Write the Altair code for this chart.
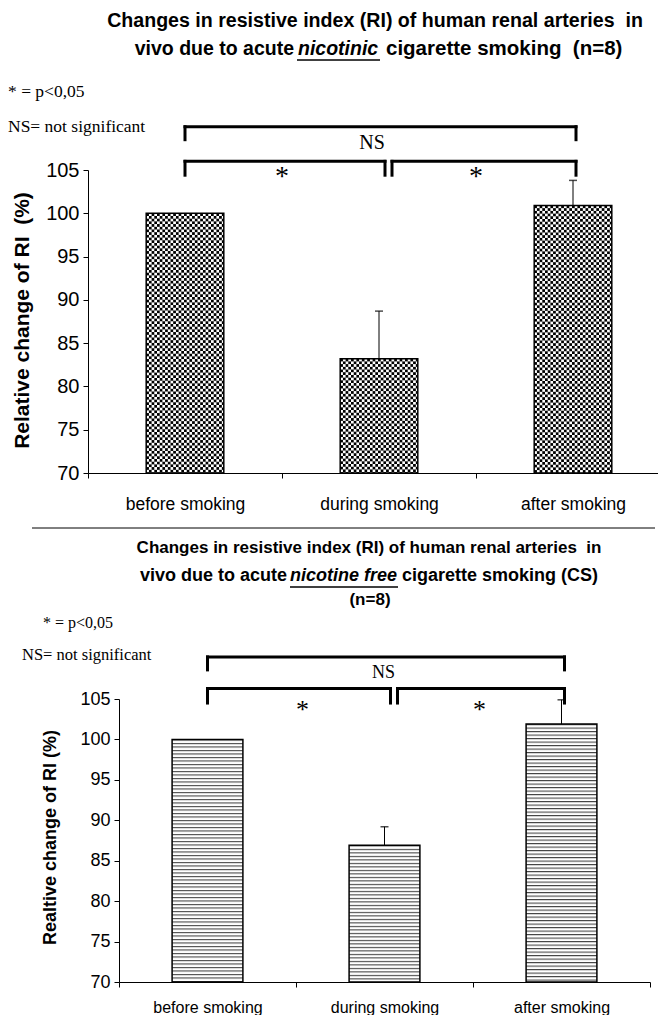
import base64
import altair as alt
import pandas as pd

# ---------------- data ----------------
categories = ["before smoking", "during smoking", "after smoking"]
nicotinic_mean = [100.0, 83.2, 100.9]
nicotinic_err = [0.0, 5.5, 2.9]
nicfree_mean = [100.0, 86.9, 101.9]
nicfree_err = [0.0, 2.3, 3.0]
y_ticks = [70, 75, 80, 85, 90, 95, 100, 105]

W, H = 650, 1007
SANS = "'Liberation Sans', Arial, sans-serif"
SERIF = "'Liberation Serif', 'Times New Roman', serif"
NB = "\u00a0"


def svg_url(svg):
    return "data:image/svg+xml;base64," + base64.b64encode(svg.encode()).decode()


CHECKER = svg_url(
    "<svg xmlns='http://www.w3.org/2000/svg' width='100%' height='100%'>"
    "<defs><pattern id='p' width='5.4' height='5.4' patternUnits='userSpaceOnUse'>"
    "<rect width='5.4' height='5.4' fill='#fff'/>"
    "<rect width='2.7' height='2.7' fill='#000'/>"
    "<rect x='2.7' y='2.7' width='2.7' height='2.7' fill='#000'/>"
    "</pattern></defs><rect width='100%' height='100%' fill='url(#p)'/></svg>"
)
STRIPES = svg_url(
    "<svg xmlns='http://www.w3.org/2000/svg' width='100%' height='100%'>"
    "<defs><pattern id='p' width='4' height='3.5' patternUnits='userSpaceOnUse'>"
    "<rect width='4' height='3.5' fill='#fff'/>"
    "<rect width='4' height='1.1' fill='#444'/>"
    "</pattern></defs><rect width='100%' height='100%' fill='url(#p)'/></svg>"
)


def one():
    return alt.Chart(alt.Data(values=[{"k": 0}]))


def text(s, x, y, size, font=SANS, align="center", weight="normal", style="normal"):
    return one().mark_text(
        text=s, font=font, fontSize=size, align=align, baseline="middle",
        fontWeight=weight, fontStyle=style, color="black",
    ).encode(x=alt.value(x), y=alt.value(y))


def hline(x1, x2, y, w=1.0):
    return one().mark_rule(color="black", strokeWidth=w).encode(
        x=alt.value(x1), x2=alt.value(x2), y=alt.value(y))


def panel(means, errs, pattern, xr, yr, yoff, ytitle, ytitle_x, ytitle_y,
          ytitle_size, tick_size, xlab_size, xlab_pad,
          ns_level, ns_drop, low_level, low_drop, offs, ns_dx, ns_y, ns_size,
          star_y, star_size, star_dx):
    df = pd.DataFrame({"cat": categories, "mean": means, "err": errs})
    xs = alt.Scale(domain=categories, range=xr, paddingInner=0, paddingOuter=0)
    ys = alt.Scale(domain=[70, 105], range=yr, nice=False, zero=False)

    def X(field="cat", **kw):
        return alt.X(f"{field}:N", scale=xs, axis=None, **kw)

    def Y(field):
        return alt.Y(f"{field}:Q", scale=ys, axis=None)

    def YD(v):
        return alt.YDatum(v, scale=ys, axis=None, type="quantitative")

    base = alt.Chart(df)
    layers = []
    layers.append(base.mark_image(width=alt.RelativeBandSize(0.4), aspect=False).encode(
        x=X(), y=Y("mean"), y2=alt.Y2Datum(70), url=alt.value(pattern)))
    layers.append(base.mark_bar(
        width=alt.RelativeBandSize(0.4), fillOpacity=0, stroke="black", strokeWidth=1.5
    ).encode(
        x=alt.X("cat:N", scale=xs, title=None, axis=alt.Axis(
            orient="bottom", offset=yr[0] - H, tickBand="extent", labelAngle=0,
            labelFont=SANS, labelFontSize=xlab_size, labelColor="black",
            labelPadding=xlab_pad, tickSize=5, tickColor="black", domainColor="black",
            grid=False)),
        y=alt.Y("mean:Q", scale=ys, axis=alt.Axis(
            orient="left", offset=yoff, values=y_ticks, grid=False,
            labelFont=SANS, labelFontSize=tick_size, labelColor="black", labelPadding=4,
            tickSize=5, tickColor="black", domainColor="black",
            title=ytitle, titleFont=SANS, titleFontSize=ytitle_size, titleFontWeight="bold",
            titleColor="black", titleX=ytitle_x, titleY=ytitle_y, titleAngle=270,
            titleAlign="center", titleBaseline="middle")),
        y2=alt.Y2Datum(70),
    ))
    eb = base.transform_filter("datum.err > 0").transform_calculate(top="datum.mean + datum.err")
    layers.append(eb.mark_rule(color="black", strokeWidth=1).encode(
        x=X(), y=Y("mean"), y2=alt.Y2("top:Q")))
    layers.append(eb.mark_tick(color="black", size=8, thickness=1.5).encode(
        x=X(), y=Y("top")))

    # significance brackets
    def horiz(a, b, level, oa, ob):
        d = pd.DataFrame({"a": [a], "b": [b]})
        return alt.Chart(d).mark_rule(
            color="black", strokeWidth=3, xOffset=oa, x2Offset=ob, strokeCap="square"
        ).encode(x=X("a"), x2=alt.X2("b:N"), y=YD(level))

    def leg(c, level, drop, off):
        d = pd.DataFrame({"c": [c]})
        return alt.Chart(d).mark_rule(
            color="black", strokeWidth=3, xOffset=off, strokeCap="square"
        ).encode(x=X("c"), y=YD(level), y2=alt.Y2Datum(level - drop))

    o_left, o_j1, o_j2, o_right = offs
    b0, b1, b2 = categories
    layers += [
        horiz(b0, b2, ns_level, o_left, o_right),
        leg(b0, ns_level, ns_drop, o_left),
        leg(b2, ns_level, ns_drop, o_right),
        horiz(b0, b1, low_level, o_left, o_j1),
        leg(b0, low_level, low_drop, o_left),
        leg(b1, low_level, low_drop, o_j1),
        horiz(b1, b2, low_level, o_j2, o_right),
        leg(b1, low_level, low_drop, o_j2),
        leg(b2, low_level, low_drop, o_right),
    ]
    ns_df = pd.DataFrame({"c": [b1]})
    layers.append(alt.Chart(ns_df).mark_text(
        text="NS", font=SERIF, fontSize=ns_size, baseline="middle", xOffset=ns_dx, color="black"
    ).encode(x=X("c"), y=YD(ns_y)))
    # stars sit between the two compared bars
    star_df = pd.DataFrame({"c": [b1, b2]})
    layers.append(alt.Chart(star_df).mark_text(
        text="*", font=SERIF, fontSize=star_size, baseline="middle", xOffset=star_dx, color="black"
    ).encode(x=X("c"), y=YD(star_y)))
    return layers


top = panel(
    nicotinic_mean, nicotinic_err, CHECKER,
    xr=[80, 662], yr=[465, 162], yoff=-80,
    ytitle=f"Relative change of RI {NB}(%)", ytitle_x=-66, ytitle_y=312,
    ytitle_size=21, tick_size=20, xlab_size=17.5, xlab_pad=17,
    ns_level=110.0, ns_drop=1.5, low_level=106.0, low_drop=1.6,
    offs=(0, 6, 13, 3), ns_dx=-7, ns_y=108.1, ns_size=20,
    star_y=104.2, star_size=28, star_dx=-97,
)
bottom = panel(
    nicfree_mean, nicfree_err, STRIPES,
    xr=[111, 642], yr=[974, 691], yoff=-111,
    ytitle="Realtive change of RI (%)", ytitle_x=-69, ytitle_y=829,
    ytitle_size=18, tick_size=18, xlab_size=16, xlab_pad=12,
    ns_level=110.2, ns_drop=1.6, low_level=106.3, low_drop=1.8,
    offs=(0, 6, 13, 3), ns_dx=-1, ns_y=108.2, ns_size=18,
    star_y=103.6, star_size=26, star_dx=-82,
)

annotations = [
    # top panel title
    text(f"Changes in resistive index (RI) of human renal arteries {NB}in", 367, 13, 19.6, weight="bold"),
    text("vivo due to acute", 286, 41, 19.5, align="right", weight="bold"),
    text("nicotinic", 290, 41, 19.5, align="left", weight="bold", style="italic"),
    text(f"cigarette smoking {NB}(n=8)", 378, 41, 20.5, align="left", weight="bold"),
    hline(289, 372, 52, 1.5),
    text("* = p<0,05", 0, 84, 17.5, font=SERIF, align="left"),
    text("NS= not significant", 0, 119, 17.5, font=SERIF, align="left"),
    # separator
    hline(24, 647, 520, 1.0),
    # bottom panel title
    text(f"Changes in resistive index (RI) of human renal arteries {NB}in", 361, 540, 17, weight="bold"),
    text("vivo due to acute", 279, 568, 18, align="right", weight="bold"),
    text("nicotine free", 282, 568, 18, align="left", weight="bold", style="italic"),
    text("cigarette smoking (CS)", 394, 568, 18, align="left", weight="bold"),
    hline(282, 390, 579, 1.5),
    text("(n=8)", 362, 592, 17, weight="bold"),
    text("* = p<0,05", 35, 615, 16, font=SERIF, align="left"),
    text("NS= not significant", 14, 647, 16.5, font=SERIF, align="left"),
]

chart = alt.layer(*(top + bottom + annotations)).resolve_scale(
    x="independent", y="independent"
).resolve_axis(
    x="independent", y="independent"
).properties(
    width=W, height=H, autosize="none", padding=0, background="white"
).configure_view(stroke=None)

chart.save("out.html", embed_options={"renderer": "svg", "actions": False})
